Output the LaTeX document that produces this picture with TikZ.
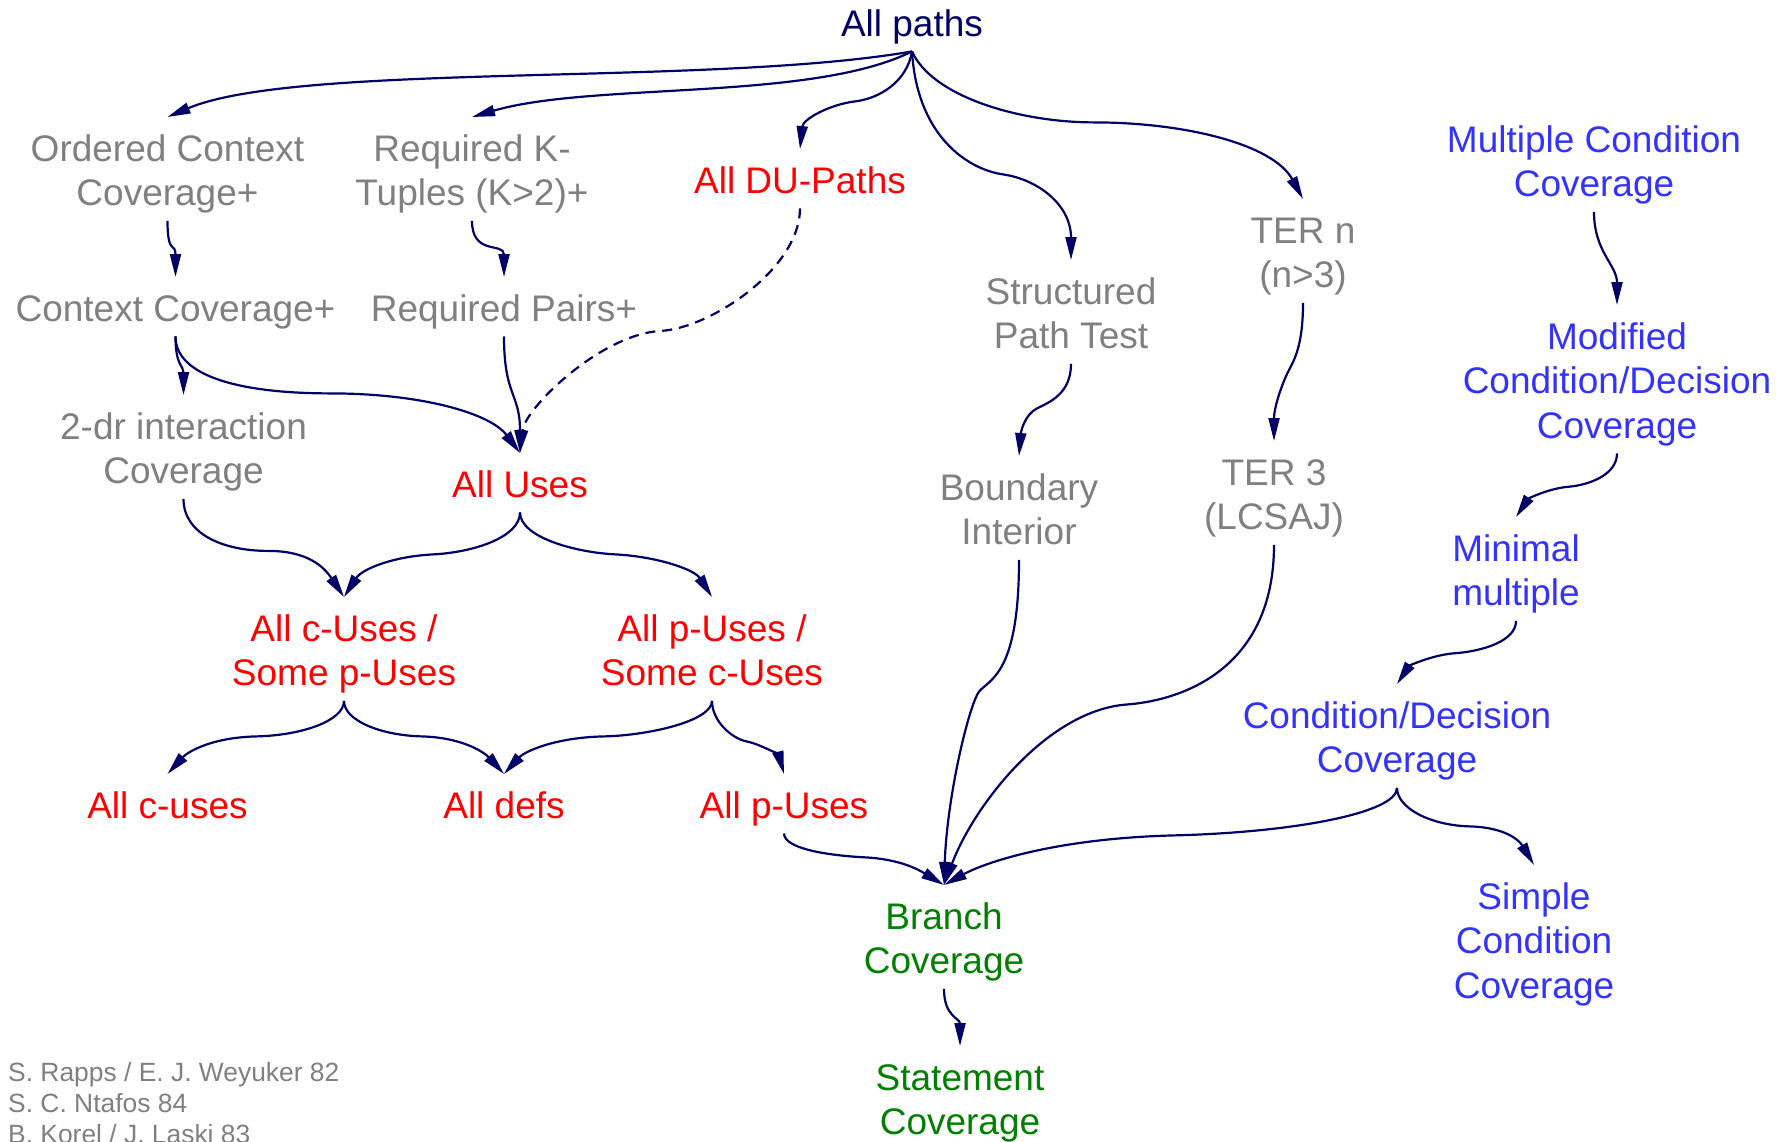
\documentclass[tikz,border=0pt]{standalone}
\usepackage{fontspec}
\setmainfont{Liberation Sans}
\usetikzlibrary{arrows.meta}

\definecolor{edgenavy}{RGB}{0,0,102}
\definecolor{critgray}{RGB}{128,128,128}
\definecolor{critred}{RGB}{255,0,0}
\definecolor{critblue}{RGB}{51,51,255}
\definecolor{critgreen}{RGB}{0,128,0}

% room above the first text line, so edges can end at the north anchor
\newcommand{\critstrut}{\rule{0pt}{44pt}}

\tikzset{
  crit/.style={inner sep=0pt, align=center, anchor=north,
    font=\fontsize{37}{44.5}\selectfont,
    execute at begin node=\critstrut,
    execute at end node=\rule[-15pt]{0pt}{15pt}},
  gray crit/.style={crit, text=critgray},
  red crit/.style={crit, text=critred},
  blue crit/.style={crit, text=critblue},
  green crit/.style={crit, text=critgreen},
  navy crit/.style={crit, text=edgenavy},
  refs/.style={inner sep=0pt, align=left, anchor=north west, text=critgray,
    font=\fontsize{26.4}{31}\selectfont},
  link/.style={draw=edgenavy, line width=2.2pt,
    -{Triangle[length=23pt,width=11pt]}},
  weak link/.style={link, dash pattern=on 10pt off 7pt},
}

\begin{document}
\begin{tikzpicture}[x=1pt,y=-1pt]
\useasboundingbox (0,0) rectangle (1787,1141);
\fill[white] (0,0) rectangle (1787,1141);

% criteria
\node[navy crit]  (ap)  at (912,-8)    {All paths};
\node[gray crit]  (oc)  at (167.5,117) {\critstrut Ordered Context\\Coverage+};
\node[gray crit]  (rk)  at (472,117)   {\critstrut Required K-\\Tuples (K>2)+};
\node[red crit]   (du)  at (800,149)   {All DU-Paths};
\node[gray crit]  (sp)  at (1071,260)  {\critstrut Structured\\Path Test};
\node[gray crit]  (tn)  at (1303,199)  {\critstrut TER n\\(n>3)};
\node[blue crit]  (mc)  at (1594,108)  {\critstrut Multiple Condition\\Coverage};
\node[gray crit]  (cc)  at (175.5,277) {Context Coverage+};
\node[gray crit]  (rp)  at (504,277)   {Required Pairs+};
\node[blue crit]  (md)  at (1617,305)  {\critstrut Modified\\Condition/Decision\\Coverage};
\node[gray crit]  (td)  at (183.5,395) {\critstrut 2-dr interaction\\Coverage};
\node[red crit]   (au)  at (520,453)   {All Uses};
\node[gray crit]  (bi)  at (1019,456)  {\critstrut Boundary\\Interior};
\node[gray crit]  (t3)  at (1274,441)  {\critstrut TER 3\\(LCSAJ)};
\node[blue crit]  (mm)  at (1516,517)  {\critstrut Minimal\\multiple};
\node[red crit]   (cs)  at (344,597)   {\critstrut All c-Uses /\\Some p-Uses};
\node[red crit]   (ps)  at (712,597)   {\critstrut All p-Uses /\\Some c-Uses};
\node[blue crit]  (cd)  at (1397,684)  {\critstrut Condition/Decision\\Coverage};
\node[red crit]   (acu) at (167.5,774) {All c-uses};
\node[red crit]   (ad)  at (504,774)   {All defs};
\node[red crit]   (apu) at (784,774)   {All p-Uses};
\node[green crit] (br)  at (944,885)   {\critstrut Branch\\Coverage};
\node[blue crit]  (sc)  at (1534,865)  {\critstrut Simple\\Condition\\Coverage};
\node[green crit] (st)  at (960,1046)  {\critstrut Statement\\Coverage};

\node[refs] (src) at (8,1062) {\rule{0pt}{19pt}S. Rapps / E. J. Weyuker 82\\S. C. Ntafos 84\\B. Korel / J. Laski 83};

% subsumption relations
\draw[link] (ap.south) .. controls +(-200,35) and +(130,-55) .. (oc.north);
\draw[link] (ap.south) .. controls +(-100,50) and +(120,-35) .. (rk.north);
\draw[link] (ap.south) .. controls +(-5,30) and +(25,-3) .. ++(-57,50)
                       .. controls +(-25,3) and +(3,-30) .. (du.north);
\draw[link] (ap.south) .. controls +(5,85) and +(-35,-5) .. ++(91,123)
                       .. controls +(35,5) and +(0,-55) .. (sp.north);
\draw[link] (ap.south) .. controls +(20,45) and +(-75,0) .. ++(182,71)
                       .. controls +(90,0) and +(-30,-55) .. (tn.north);

\draw[link] (oc.south) .. controls +(0,35) and +(0,-35) .. (cc.north);
\draw[link] (rk.south) .. controls +(0,35) and +(0,-35) .. (rp.north);
\draw[link] (cc.south) .. controls +(0,30) and +(0,-30) .. (td.north);
\draw[link] (cc.south) .. controls +(0,40) and +(-90,0) .. ++(155,57)
                       .. controls +(90,0) and +(-30,-40) .. (au.north);
\draw[link] (rp.south) .. controls +(0,60) and +(0,-60) .. (au.north);
\draw[weak link] (du.south) .. controls +(0,60) and +(50,-3) .. ++(-139,122.5)
                       .. controls +(-60,3) and +(5,-45) .. (au.north);

\draw[link] (sp.south) .. controls +(0,30) and +(12,-6) .. ++(-34,44.5)
                       .. controls +(-12,6) and +(2,-25) .. (bi.north);
\draw[link] (tn.south) .. controls +(0,45) and +(5,-10) .. ++(-15,69)
                       .. controls +(-5,10) and +(0,-35) .. (t3.north);

\draw[link] (mc.south) .. controls +(0,40) and +(0,-40) .. (md.north);
\draw[link] (md.south) .. controls +(0,20) and +(25,-2) .. ++(-50,33.5)
                       .. controls +(-20,2) and +(12,-18) .. (mm.north);
\draw[link] (mm.south) .. controls +(0,20) and +(30,-2) .. ++(-63,32.5)
                       .. controls +(-22,2) and +(12,-18) .. (cd.north);

\draw[link] (td.south) .. controls +(0,35) and +(-45,0) .. ++(84.5,52)
                       .. controls +(40,0) and +(-20,-30) .. (cs.north);
\draw[link] (au.south) .. controls +(0,25) and +(40,-2) .. ++(-87,42)
                       .. controls +(-40,2) and +(18,-28) .. (cs.north);
\draw[link] (au.south) .. controls +(0,25) and +(-40,-2) .. ++(95.5,42)
                       .. controls +(40,2) and +(-18,-28) .. (ps.north);

\draw[link] (cs.south) .. controls +(0,20) and +(45,-1) .. ++(-87.6,35.5)
                       .. controls +(-45,1) and +(20,-22) .. (acu.north);
\draw[link] (cs.south) .. controls +(0,20) and +(-40,-1) .. ++(77.7,35.5)
                       .. controls +(40,1) and +(-20,-22) .. (ad.north);
\draw[link] (ps.south) .. controls +(0,20) and +(45,-1) .. ++(-108,35.5)
                       .. controls +(-50,1) and +(20,-22) .. (ad.north);
\draw[link] (ps.south) .. controls +(0,20) and +(-15,-3) .. ++(34.5,40.5)
                       .. controls +(15,3) and +(-5,-18) .. (apu.north);

\draw[link] (apu.south) .. controls +(0,15) and +(-40,-2) .. ++(82,24)
                        .. controls +(35,2) and +(-25,-15) .. (br.north);
\draw[link] (bi.south) .. controls +(0,110) and +(12,-12) .. ++(-39,130.5)
                       .. controls +(-10,10) and +(3,-90) .. (br.north);
\draw[link] (t3.south) .. controls +(0,120) and +(60,-5) .. ++(-146,159.5)
                       .. controls +(-80,5) and +(30,-80) .. (br.north);
\draw[link] (cd.south) .. controls +(0,25) and +(120,-3) .. ++(-223,47.5)
                       .. controls +(-120,3) and +(40,-22) .. (br.north);
\draw[link] (cd.south) .. controls +(0,20) and +(-40,-1) .. ++(73,38.5)
                       .. controls +(35,1) and +(-15,-25) .. (sc.north);

\draw[link] (br.south) .. controls +(0,28) and +(0,-28) .. (st.north);
\end{tikzpicture}
\end{document}
